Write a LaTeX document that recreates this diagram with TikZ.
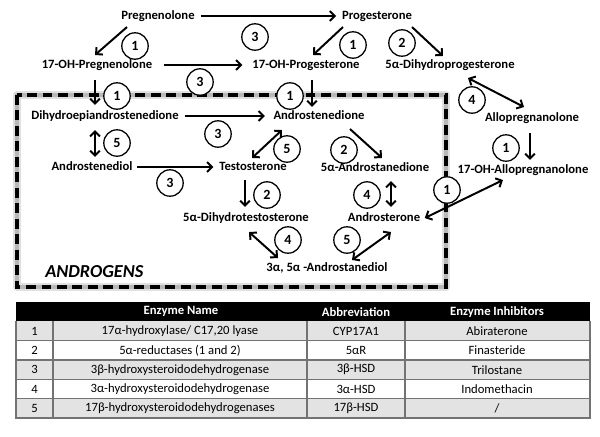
\documentclass[tikz,border=0pt]{standalone}
\usepackage{fontspec}
\setmainfont{Carlito}
\usetikzlibrary{arrows.meta}
\definecolor{rowgray}{gray}{0.89}
\definecolor{gridgray}{gray}{0.45}
\tikzset{
  mol/.style={font=\fontsize{9}{10}\selectfont\bfseries, inner sep=1pt, text height=7pt, text depth=2pt},
  enz/.style={circle, draw, fill=white, line width=0.9pt, minimum size=0.66cm, inner sep=0pt, font=\fontsize{10}{11}\selectfont\bfseries},
  rxn/.style={-{Straight Barb[length=3.5pt,width=7pt]}, line width=1.4pt},
  rev/.style={{Straight Barb[length=3.5pt,width=7pt]}-{Straight Barb[length=3.5pt,width=7pt]}, line width=1.4pt},
  cell/.style={font=\fontsize{9}{10}\selectfont, inner sep=1pt},
  head/.style={font=\fontsize{9}{10}\selectfont\bfseries, text=white, inner sep=1pt}
}
\begin{document}
\begin{tikzpicture}[x=0.025cm, y=-0.025cm]
      \useasboundingbox (0,0) rectangle (600,436);
      % androgens box
      \draw[line width=6pt, black!12, line join=round] (17,95) rectangle (446,287);
      \draw[line width=3.5pt, black!28, line join=round] (17,95) rectangle (446,287);
      \draw[line width=2.2pt, dash pattern=on 7pt off 4pt] (17,95) rectangle (446,287);
      \draw
        (158,16) node[mol] (preg){Pregnenolone}
        (377,16) node[mol] (prog){Progesterone}
        (97,65) node[mol] (ohpreg){17-OH-Pregnenolone}
        (306,65) node[mol] (ohprog){17-OH-Progesterone}
        (450,65) node[mol] (dhp){5α-Dihydroprogesterone}
        (105,116) node[mol] (dhea){Dihydroepiandrostenedione}
        (319,116) node[mol] (adione){Androstenedione}
        (532,118) node[mol] (allo){Allopregnanolone}
        (92,167) node[mol] (adiol){Androstenediol}
        (253,167) node[mol] (testo){Testosterone}
        (375,168) node[mol] (adione5){5α-Androstanedione}
        (523,170) node[mol] (ohallo){17-OH-Allopregnanolone}
        (246,218) node[mol] (dht){5α-Dihydrotestosterone}
        (384,218) node[mol] (andro){Androsterone}
        (327,268) node[mol] (adiol35){3α, 5α -Androstanediol}
        (45,272) node[anchor=west, inner sep=0pt, font=\fontsize{13}{14}\selectfont\bfseries\itshape] (androgens){ANDROGENS};
      \draw
        (135,46) node[enz] (e1a){1}
        (255,37) node[enz] (e3a){3}
        (200,82) node[enz] (e3b){3}
        (117,96) node[enz] (e1b){1}
        (290,96) node[enz] (e1c){1}
        (353,45) node[enz] (e1d){1}
        (402,43) node[enz] (e2a){2}
        (472,100) node[enz] (e4a){4}
        (506,148) node[enz] (e1e){1}
        (218,134) node[enz] (e3c){3}
        (117,143) node[enz] (e5a){5}
        (287,149) node[enz] (e5b){5}
        (344,150) node[enz] (e2b){2}
        (170,183) node[enz] (e3d){3}
        (267,195) node[enz] (e2c){2}
        (367,195) node[enz] (e4b){4}
        (447,190) node[enz] (e1f){1}
        (288,240) node[enz] (e4c){4}
        (347,240) node[enz] (e5c){5};
      \begin{scope}[rxn]
        \draw[shorten <=3pt, shorten >=3pt] (preg.east) to (prog.west);
        \draw ([shift={(-31,3)}]preg.south) to ([shift={(-2,-2)}]ohpreg.north);
        \draw[shorten <=7pt, shorten >=6pt] (ohpreg.east) to (ohprog.west);
        \draw ([shift={(-2,7)}]ohpreg.south) to ([shift={(-10,-3)}]dhea.north);
        \draw ([shift={(-34,3)}]prog.south) to ([shift={(7,-2)}]ohprog.north);
        \draw ([shift={(35,3)}]prog.south) to ([shift={(-7,-1)}]dhp.north);
        \draw ([shift={(6,7)}]ohprog.south) to ([shift={(-7,-1)}]adione.north);
        \draw ([shift={(-2,7)}]allo.south) to ([shift={(7,-2)}]ohallo.north);
        \draw[shorten <=3pt, shorten >=5pt] (dhea.east) to (adione.west);
        \draw ([shift={(31,5)}]adione.south) to ([shift={(7,-2)}]adione5.north);
        \draw[shorten <=2pt, shorten >=3pt] (adiol.east) to (testo.west);
        \draw ([shift={(-8,5)}]testo.south) to ([shift={(-1,-3)}]dht.north);
      \end{scope}
      \begin{scope}[rev]
        \draw ([shift={(18,5)}]dhp.south) to ([shift={(-8,-3)}]allo.north);
        \draw ([shift={(-10,6)}]dhea.south) to ([shift={(3,-2)}]adiol.north);
        \draw ([shift={(-37,6)}]adione.south) to ([shift={(-1,-1)}]testo.north);
        \draw ([shift={(16,5)}]adione5.south) to ([shift={(7,-3)}]andro.north);
        \draw ([shift={(-20,2)}]ohallo.south) to ([shift={(3,0)}]andro.east);
        \draw ([shift={(3,6)}]dht.south) to ([shift={(-49,-2)}]adiol35.north);
        \draw ([shift={(7,6)}]andro.south) to ([shift={(25,0)}]adiol35.north);
      \end{scope}
      % enzyme table
      \fill[black] (16,302) rectangle (590,321.3);
      \foreach \r in {1,3,5}
        \fill[rowgray] (16,{302+\r*19.33}) rectangle (590,{302+(\r+1)*19.33});
      \foreach \r in {2,...,5}
        \draw[gridgray, line width=0.8pt] (16,{302+\r*19.33}) -- (590,{302+\r*19.33});
      \foreach \c in {53,307,405}
        \draw[gridgray, line width=0.8pt] (\c,321.3) -- (\c,418);
      \draw[gridgray, line width=0.8pt] (16,321.3) -- (16,418) -- (590,418) -- (590,321.3);
      \draw
        (181,311.7) node[head] (hname){Enzyme Name}
        (356,311.7) node[head] (habbr){Abbreviation}
        (497,311.7) node[head] (hinh){Enzyme Inhibitors}
        (34.5,331) node[cell] (n1){1}
        (180,331) node[cell] (name1){17α-hydroxylase/ C17,20 lyase}
        (356,331) node[cell] (abbr1){CYP17A1}
        (497,331) node[cell] (inh1){Abiraterone}
        (34.5,350.3) node[cell] (n2){2}
        (180,350.3) node[cell] (name2){5α-reductases (1 and 2)}
        (356,350.3) node[cell] (abbr2){5αR}
        (497,350.3) node[cell] (inh2){Finasteride}
        (34.5,369.7) node[cell] (n3){3}
        (180,369.7) node[cell] (name3){3β-hydroxysteroidodehydrogenase}
        (356,369.7) node[cell] (abbr3){3β-HSD}
        (497,369.7) node[cell] (inh3){Trilostane}
        (34.5,389) node[cell] (n4){4}
        (180,389) node[cell] (name4){3α-hydroxysteroidodehydrogenase}
        (356,389) node[cell] (abbr4){3α-HSD}
        (497,389) node[cell] (inh4){Indomethacin}
        (34.5,408.3) node[cell] (n5){5}
        (180,408.3) node[cell] (name5){17β-hydroxysteroidodehydrogenases}
        (356,408.3) node[cell] (abbr5){17β-HSD}
        (497,408.3) node[cell] (inh5){/};
    \end{tikzpicture}
\end{document}
